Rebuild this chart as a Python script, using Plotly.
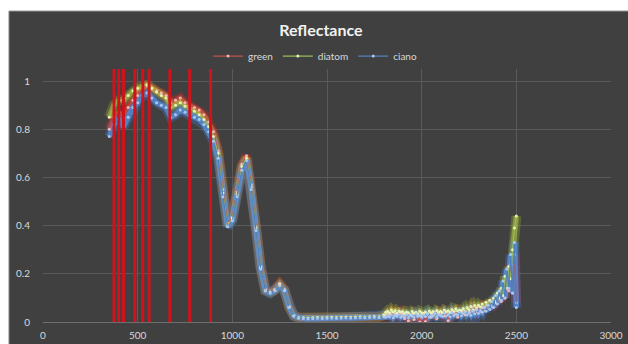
import plotly.graph_objects as go

# ---- data ----
wl_smooth = list(range(350, 1351, 25))
ciano_smooth = [0.77, 0.82, 0.84, 0.81, 0.85, 0.89, 0.91, 0.94, 0.95, 0.93,
                0.91, 0.90, 0.89, 0.85, 0.86, 0.88, 0.87, 0.86, 0.85, 0.84,
                0.82, 0.79, 0.75, 0.68, 0.52, 0.395, 0.42, 0.52, 0.63, 0.67,
                0.55, 0.38, 0.22, 0.13, 0.12, 0.13, 0.15, 0.13, 0.06, 0.025, 0.017]
green_smooth = [0.80, 0.85, 0.87, 0.85, 0.89, 0.92, 0.94, 0.97, 0.98, 0.97,
                0.96, 0.95, 0.94, 0.91, 0.92, 0.93, 0.91, 0.90, 0.89, 0.88,
                0.86, 0.83, 0.79, 0.71, 0.55, 0.41, 0.435, 0.54, 0.655, 0.69,
                0.57, 0.395, 0.23, 0.135, 0.125, 0.135, 0.16, 0.135, 0.065, 0.027, 0.018]
diatom_smooth = [0.85, 0.90, 0.92, 0.92, 0.94, 0.96, 0.97, 0.98, 0.985, 0.97,
                 0.955, 0.94, 0.93, 0.89, 0.90, 0.91, 0.895, 0.885, 0.875, 0.86,
                 0.84, 0.81, 0.77, 0.70, 0.535, 0.40, 0.43, 0.53, 0.645, 0.68,
                 0.56, 0.39, 0.225, 0.13, 0.122, 0.132, 0.155, 0.132, 0.062, 0.026, 0.018]

wl_flat = list(range(1375, 1801, 25))
ciano_flat = [0.015, 0.014, 0.015, 0.016, 0.015, 0.016, 0.017, 0.016, 0.017,
              0.018, 0.017, 0.018, 0.019, 0.018, 0.019, 0.020, 0.019, 0.021]
green_flat = [0.017, 0.016, 0.017, 0.018, 0.017, 0.018, 0.019, 0.018, 0.019,
              0.020, 0.019, 0.020, 0.021, 0.020, 0.021, 0.022, 0.021, 0.024]
diatom_flat = [0.018, 0.017, 0.018, 0.019, 0.018, 0.019, 0.020, 0.019, 0.020,
               0.021, 0.020, 0.021, 0.022, 0.021, 0.022, 0.023, 0.022, 0.030]

wl_tail = list(range(1810, 2501, 10))
ciano_tail = [0.020, 0.025, 0.022, 0.030, 0.018, 0.027, 0.024, 0.032, 0.020, 0.026,
              0.022, 0.030, 0.019, 0.028, 0.025, 0.021, 0.033, 0.024, 0.027, 0.020,
              0.029, 0.023, 0.034, 0.021, 0.028, 0.026, 0.035, 0.022, 0.030, 0.027,
              0.024, 0.036, 0.025, 0.031, 0.022, 0.038, 0.027, 0.033, 0.029, 0.040,
              0.026, 0.035, 0.042, 0.030, 0.038, 0.028, 0.045, 0.034, 0.050, 0.036,
              0.048, 0.040, 0.060, 0.045, 0.070, 0.052, 0.085, 0.060, 0.110, 0.075,
              0.130, 0.090, 0.170, 0.100, 0.220, 0.140, 0.280, 0.120, 0.330, 0.060]
green_tail = [0.030, 0.035, 0.028, 0.040, 0.025, 0.036, 0.030, 0.042, 0.027, 0.034,
              0.015, 0.030, 0.005, 0.028, 0.035, 0.010, 0.032, 0.025, 0.000, 0.030,
              0.035, 0.002, 0.030, 0.040, 0.020, 0.033, 0.042, 0.015, 0.036, 0.030,
              0.040, 0.025, 0.045, 0.005, 0.038, 0.044, 0.030, 0.048, 0.020, 0.045,
              0.040, 0.050, 0.030, 0.055, 0.045, 0.035, 0.060, 0.050, 0.045, 0.065,
              0.045, 0.060, 0.050, 0.070, 0.060, 0.085, 0.065, 0.095, 0.080, 0.090,
              0.100, 0.085, 0.140, 0.100, 0.180, 0.130, 0.240, 0.120, 0.280, 0.080]
diatom_tail = [0.040, 0.045, 0.038, 0.050, 0.042, 0.048, 0.036, 0.046, 0.040, 0.044,
               0.035, 0.042, 0.038, 0.030, 0.044, 0.036, 0.040, 0.033, 0.045, 0.038,
               0.036, 0.042, 0.034, 0.046, 0.038, 0.044, 0.032, 0.048, 0.040, 0.045,
               0.038, 0.050, 0.042, 0.047, 0.040, 0.052, 0.044, 0.055, 0.046, 0.050,
               0.048, 0.056, 0.045, 0.060, 0.052, 0.064, 0.050, 0.068, 0.058, 0.070,
               0.062, 0.075, 0.060, 0.082, 0.070, 0.090, 0.075, 0.100, 0.085, 0.120,
               0.100, 0.140, 0.110, 0.190, 0.140, 0.230, 0.180, 0.300, 0.390, 0.440]

wavelength = wl_smooth + wl_flat + wl_tail
green = green_smooth + green_flat + green_tail
diatom = diatom_smooth + diatom_flat + diatom_tail
ciano = ciano_smooth + ciano_flat + ciano_tail

band_lines = [375, 400, 425, 485, 527, 560, 670, 775, 885]
band_top = 1.05

# ---- styling ----
BG = "#404040"
FONT = "Lato, Carlito, Calibri, 'Open Sans', sans-serif"

series = [
    ("green", green, "#c0504d", "rgba(255,30,30,0.22)", "rgba(255,70,60,0.45)", "#f2b8b6"),
    ("diatom", diatom, "#9bbb59", "rgba(210,240,40,0.20)", "rgba(205,235,70,0.40)", "#e6f3b5"),
    ("ciano", ciano, "#4f81bd", "rgba(70,130,220,0.30)", "rgba(85,140,215,0.80)", "#a9c8ef"),
]

fig = go.Figure()
for name, ys, col, glow1, glow2, mcol in series:
    fig.add_trace(go.Scatter(x=wavelength, y=ys, mode="lines",
                             line=dict(color=glow1, width=10),
                             showlegend=False, hoverinfo="skip"))
    fig.add_trace(go.Scatter(x=wavelength, y=ys, mode="lines",
                             line=dict(color=glow2, width=5.5),
                             showlegend=False, hoverinfo="skip"))
for name, ys, col, glow1, glow2, mcol in series:
    fig.add_trace(go.Scatter(x=wavelength, y=ys, mode="lines+markers", name=name,
                             line=dict(color=col, width=1.2),
                             marker=dict(color=mcol, size=3, line=dict(width=0))))

bx, by = [], []
for w in band_lines:
    bx += [w, w, None]
    by += [0, band_top, None]
fig.add_trace(go.Scatter(x=bx, y=by, mode="lines", showlegend=False, hoverinfo="skip",
                         line=dict(color="#d0121b", width=3)))

fig.update_layout(
    width=628, height=344,
    margin=dict(l=43, r=17, t=69, b=22, autoexpand=False),
    paper_bgcolor="white",
    plot_bgcolor=BG,
    hovermode=False,
    font=dict(family=FONT, color="#d9d9d9", size=10),
    title=dict(text="<b>Reflectance</b>", x=0.511, xanchor="center",
               y=1 - 30 / 344, yanchor="middle", yref="container",
               font=dict(size=16, color="#f2f2f2", family=FONT)),
    legend=dict(orientation="h", x=0.479, xanchor="center", y=1.051, yanchor="middle",
                bgcolor="rgba(0,0,0,0)", font=dict(size=10, color="#d9d9d9"),
                itemwidth=30, tracegroupgap=0),
    showlegend=True,
    shapes=[dict(type="rect", xref="paper", yref="paper", x0=-0.0599, x1=1.06,
                 y0=-0.12, y1=1.229, fillcolor=BG, line=dict(color="#8c8c8c", width=1),
                 layer="below")],
)
fig.update_xaxes(range=[0, 3000], dtick=500, showgrid=True, gridcolor="#5a5a5a",
                 gridwidth=1, zeroline=False, showline=False, ticks="", automargin=False,
                 ticklabelstandoff=6, tickfont=dict(size=10, color="#d9d9d9"))
fig.update_yaxes(range=[0, band_top], tick0=0, dtick=0.2, showgrid=True, gridcolor="#5a5a5a",
                 gridwidth=1, zeroline=True, zerolinecolor="#6e6e6e", zerolinewidth=1,
                 showline=False, ticks="", ticklabelstandoff=12, automargin=False,
                 tickfont=dict(size=10, color="#d9d9d9"))

fig.write_html("out.html",
               config={"displayModeBar": False},
               post_script="document.body.style.margin='0';"
                           "document.documentElement.style.overflow='hidden';"
                           "document.body.style.overflow='hidden';")
